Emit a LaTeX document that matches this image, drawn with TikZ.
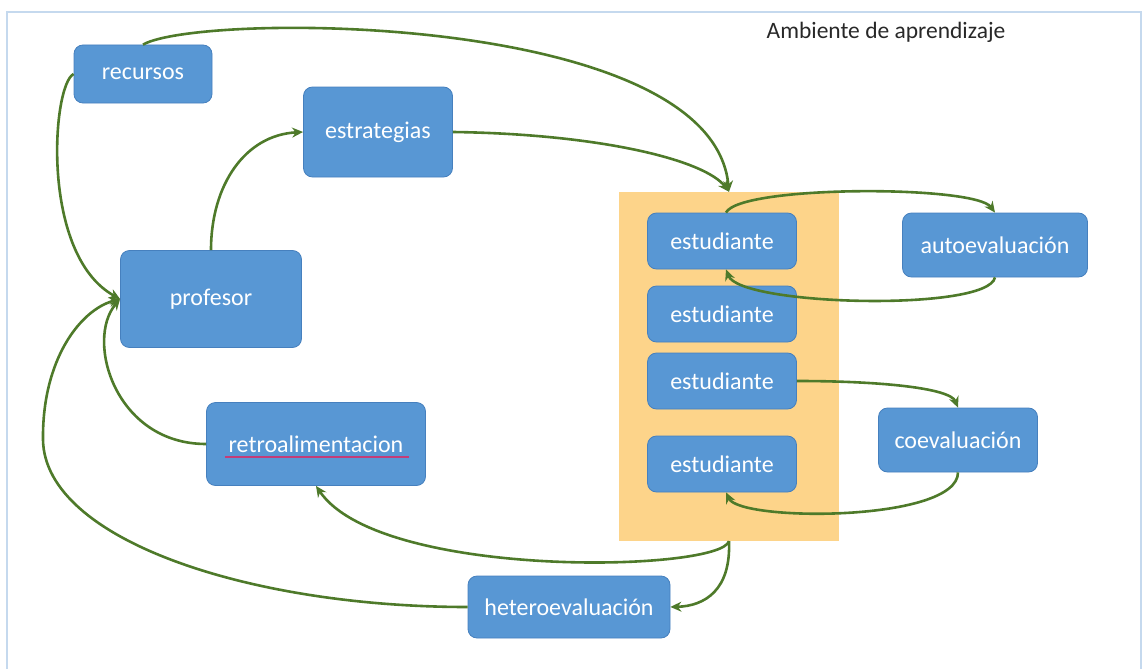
\documentclass[tikz,border=0pt]{standalone}
\usepackage{fontspec}
\setmainfont{Carlito}
\usetikzlibrary{arrows.meta}
\definecolor{boxblue}{RGB}{88,151,212}
\definecolor{boxedge}{RGB}{70,128,190}
\definecolor{linkgreen}{RGB}{78,122,42}
\definecolor{groupfill}{RGB}{253,212,138}
\definecolor{framecol}{RGB}{197,217,238}
\definecolor{spellred}{RGB}{196,60,120}
\definecolor{titlegray}{RGB}{40,40,40}
\tikzset{
  box/.style={rectangle, rounded corners=9pt, fill=boxblue, draw=boxedge, line width=0.8pt,
    text=white, font=\fontsize{24}{28}\selectfont, inner sep=0pt},
  link/.style={draw=linkgreen, line width=2.6pt, -{Stealth[length=11pt,width=10pt]}},
}
\begin{document}
\begin{tikzpicture}[x=1pt,y=-1pt]
\useasboundingbox (0,0) rectangle (1143,669);
% frame
\draw[framecol, line width=2pt] (7,669) -- (7,12) -- (1141,12) -- (1141,669);
% group rectangle
\node[rectangle, fill=groupfill, inner sep=0pt, minimum width=220pt, minimum height=349pt] (grp) at (729,366.5) {};
% title
\node[text=titlegray, font=\fontsize{23.5}{27}\selectfont, inner sep=0pt] (title) at (886,32) {Ambiente de aprendizaje};
% boxes
\node[box, minimum width=138pt, minimum height=58pt] (rec) at (143,74) {recursos};
\node[box, minimum width=149pt, minimum height=90pt] (est) at (378,132) {estrategias};
\node[box, minimum width=181pt, minimum height=97pt] (prof) at (211,299) {profesor};
\node[box, minimum width=219pt, minimum height=83pt] (retro) at (316,444) {retroalimentacion};
\node[box, minimum width=202pt, minimum height=62pt] (hetero) at (569,607) {heteroevaluación};
\node[box, minimum width=185pt, minimum height=64pt] (auto) at (995,245) {autoevaluación};
\node[box, minimum width=159pt, minimum height=64pt] (coev) at (958,440) {coevaluación};
\node[box, minimum width=149pt, minimum height=56pt] (s1) at (722,241) {estudiante};
\node[box, minimum width=149pt, minimum height=56pt] (s2) at (722,314) {estudiante};
\node[box, minimum width=149pt, minimum height=56pt] (s3) at (722,381) {estudiante};
\node[box, minimum width=149pt, minimum height=56pt] (s4) at (722,464) {estudiante};
% spell-check underline
\draw[spellred, line width=1.2pt] ([xshift=-91pt,yshift=-13pt]retro.center) -- ([xshift=93pt,yshift=-13pt]retro.center);
% connectors
\draw[link] (rec.north) .. controls (200,12) and (712,12) .. (grp.north);
\draw[link] (est.east) .. controls (600,134) and (705,160) .. (grp.north);
\draw[link] (prof.north) .. controls (211,185) and (245,135) .. (est.west);
\draw[link] (rec.west) .. controls (52,85) and (40,255) .. (prof.west);
\draw[link] (retro.west) .. controls (115,444) and (85,340) .. (prof.west);
\draw[link] (hetero.west) .. controls (250,607) and (45,540) .. (43,440) .. controls (42,360) and (80,310) .. (prof.west);
\draw[link] (grp.south) .. controls (720,572) and (380,580) .. (retro.south);
\draw[link] (grp.south) .. controls (731,590) and (705,606) .. (hetero.east);
\draw[link] ([xshift=4pt]s1.north) .. controls (740,185) and (975,185) .. (auto.north);
\draw[link] (auto.south) .. controls (988,312) and (740,306) .. ([xshift=4pt]s1.south);
\draw[link] (s3.east) .. controls (880,381) and (950,388) .. (coev.north);
\draw[link] (coev.south) .. controls (958,522) and (740,522) .. ([xshift=4pt]s4.south);
\end{tikzpicture}
\end{document}
